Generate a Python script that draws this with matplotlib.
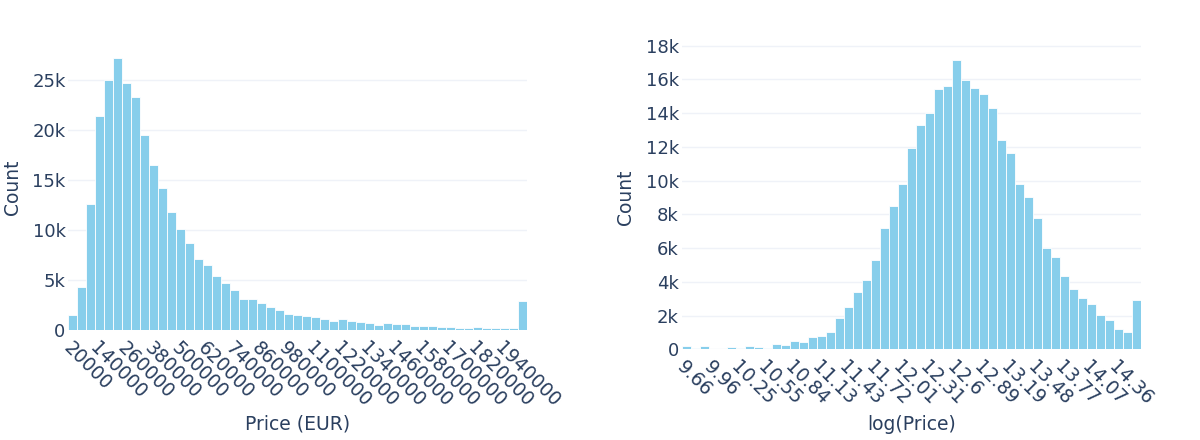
import numpy as np
import matplotlib
matplotlib.use("Agg")
import matplotlib.pyplot as plt
from matplotlib.ticker import FuncFormatter

# price histogram (51 bins of 40000 EUR), counts
price_counts = [1500, 4350, 12600, 21400, 25000, 27200, 24700, 23300, 19500, 16500,
                14200, 11800, 10100, 8700, 7100, 6500, 5400, 4700, 4000, 3150,
                3100, 2700, 2300, 2000, 1600, 1500, 1430, 1270, 1130, 900,
                1070, 870, 830, 730, 500, 670, 570, 570, 430, 400,
                430, 270, 300, 230, 200, 270, 200, 200, 170, 200, 2930]
price_labels = ["20000", "140000", "260000", "380000", "500000", "620000", "740000",
                "860000", "980000", "1100000", "1220000", "1340000", "1460000",
                "1580000", "1700000", "1820000", "1940000"]

# log(price) histogram, 51 bins
log_counts = [210, 60, 170, 40, 40, 140, 60, 170, 140, 100,
              290, 230, 470, 410, 750, 800, 1040, 1840, 2500, 3420,
              4100, 5300, 7200, 8520, 9800, 11900, 13270, 14020, 15440, 15620,
              17160, 15940, 15460, 15100, 14320, 12390, 11660, 9820, 9010, 7750,
              6000, 5460, 4340, 3590, 3020, 2660, 2010, 1720, 1220, 1030, 2920]
log_labels = ["9.66", "9.96", "10.25", "10.55", "10.84", "11.13", "11.43", "11.72",
              "12.01", "12.31", "12.6", "12.89", "13.19", "13.48", "13.77", "14.07", "14.36"]

txt = "#2a3f5f"
bar_col = "#87CEEB"
grid_col = "#EFF2F8"
fs = 13

plt.rcParams["font.family"] = ["DejaVu Sans"]

fig = plt.figure(figsize=(12, 4.4), dpi=100)
W, H = 1200, 440


def kfmt(v, pos):
    return "0" if v == 0 else "%dk" % round(v / 1000)


def panel(rect, counts, labels, ytop, yticks, xtitle):
    # rect in pixels: left, top, right, bottom
    x0, top, x1, bot = rect
    ax = fig.add_axes([x0 / W, 1 - bot / H, (x1 - x0) / W, (bot - top) / H])
    xs = np.arange(len(counts))
    ax.bar(xs, counts, width=1.0, color=bar_col, edgecolor="white", linewidth=0.6, zorder=2)
    ax.set_xlim(-0.5, len(counts) - 0.5)
    ax.set_ylim(0, ytop)
    ax.set_yticks(yticks)
    ax.yaxis.set_major_formatter(FuncFormatter(kfmt))
    ax.grid(axis="y", color=grid_col, linewidth=1, zorder=0)
    ax.set_xticks(xs[::3][:len(labels)])
    ax.set_xticklabels(labels, rotation=-45, ha="left", va="top", rotation_mode="anchor")
    for s in ax.spines.values():
        s.set_visible(False)
    ax.tick_params(length=0, colors=txt, labelsize=fs)
    ax.tick_params(axis="y", pad=2)
    ax.tick_params(axis="x", pad=6, labelsize=13.5)
    ax.set_ylabel("Count", color=txt, fontsize=13.5, va="center")
    ax.yaxis.set_label_coords(-56 / (x1 - x0), 0.5)
    ax.set_xlabel(xtitle, color=txt, fontsize=13.5, va="center")
    ax.xaxis.set_label_coords(0.5, (bot - 424) / (bot - top))
    return ax


panel((68.3, 44.4, 527, 330), price_counts, price_labels, 28560,
      np.arange(0, 25001, 5000), "Price (EUR)")
panel((681.7, 45, 1141, 349.3), log_counts, log_labels, 18030,
      np.arange(0, 18001, 2000), "log(Price)")

fig.savefig("out.png", dpi=100)
